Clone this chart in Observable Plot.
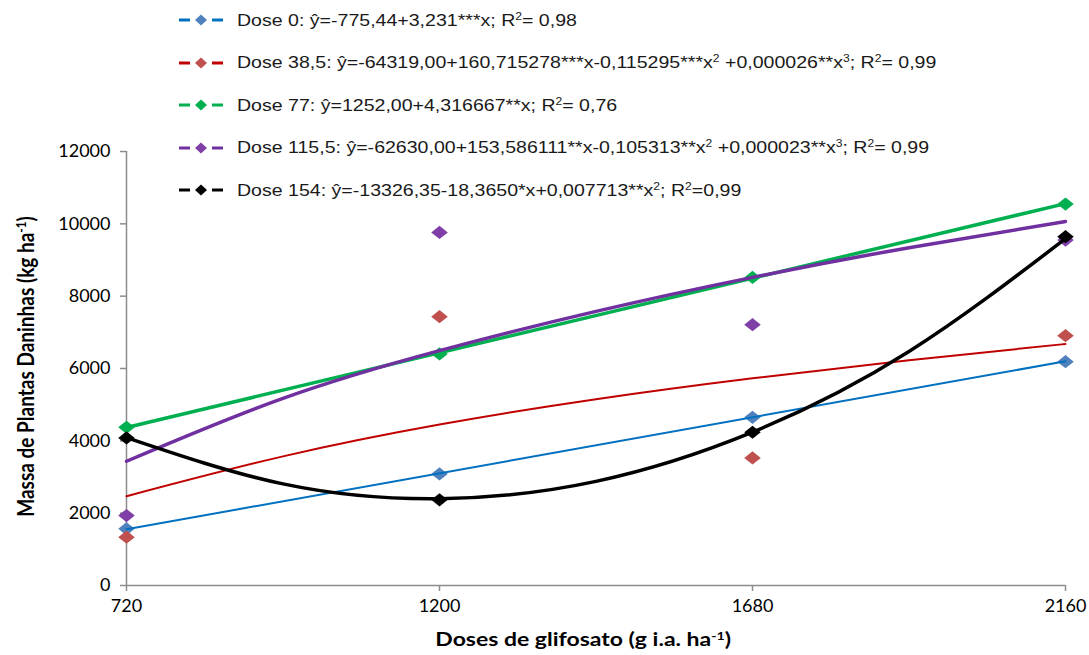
<!DOCTYPE html>
<html>
<head>
<meta charset="utf-8">
<script src="https://cdn.jsdelivr.net/npm/d3@7"></script>
<script src="https://cdn.jsdelivr.net/npm/@observablehq/plot@0.6"></script>
<style>
  html, body { margin: 0; padding: 0; background: #fff; }
  #wrap { position: relative; width: 1089px; height: 655px; overflow: hidden; }
  #legend { position: absolute; left: 0; top: 0; font-family: "Liberation Sans", Arial, sans-serif; font-size: 16.5px; color: #1a1a1a; }
  .row { position: absolute; display: flex; align-items: center; white-space: nowrap; height: 24px; }
  .row svg { margin-right: 13px; flex: none; }
  .row span { display: inline-block; transform: scaleX(1.185); transform-origin: 0 50%; }
  sup { font-size: 0.62em; vertical-align: 0.55em; line-height: 0; }
  .atitle { position: absolute; font-family: Lato, "Open Sans", sans-serif; font-weight: bold; font-size: 19px; color: #000; white-space: nowrap; }
</style>
</head>
<body>
<div id="wrap"></div>
<script>
// ---------- data ----------
const doses = [720, 1200, 1680, 2160];          // x tick labels / observed doses
const yTicks = [0, 2000, 4000, 6000, 8000, 10000, 12000];

const seriesNames = ["Dose 0", "Dose 38,5", "Dose 77", "Dose 115,5", "Dose 154"];

// observed values (diamond markers)
const obsDose0   = [1566, 3086, 4651, 6190];
const obsDose38  = [1335, 7433, 3528, 6908];
const obsDose77  = [4374, 6402, 8519, 10547];
const obsDose115 = [1934, 9763, 7212, 9552];
const obsDose154 = [4081, 2368, 4237, 9644];

// fitted lines (straight): endpoints
const lineX   = [720, 2160];
const fitDose0  = [1555, 6200];
const fitDose77 = [4370, 10560];

// fitted curves: values
const curveX = [720, 960, 1200, 1440, 1680, 1920, 2160];
const fitDose38  = [2468, 3570, 4450, 5150, 5729, 6230, 6678];
const fitDose115 = [3435, 5175, 6494, 7580, 8520, 9340, 10066];
const fitDose154 = [4090, 2810, 2400, 2880, 4240, 6470, 9590];

const legendTexts = [
  "Dose 0: ŷ=-775,44+3,231***x; R<sup>2</sup>= 0,98",
  "Dose 38,5: ŷ=-64319,00+160,715278***x-0,115295***x<sup>2</sup> +0,000026**x<sup>3</sup>; R<sup>2</sup>= 0,99",
  "Dose 77: ŷ=1252,00+4,316667**x; R<sup>2</sup>= 0,76",
  "Dose 115,5: ŷ=-62630,00+153,586111**x-0,105313**x<sup>2</sup> +0,000023**x<sup>3</sup>; R<sup>2</sup>= 0,99",
  "Dose 154: ŷ=-13326,35-18,3650*x+0,007713**x<sup>2</sup>; R<sup>2</sup>=0,99"
];

// ---------- styles ----------
const lineColors   = ["#0070C0", "#C00000", "#00B050", "#7030A0", "#000000"];
const markerColors = ["#4F81BD", "#C0504D", "#00B050", "#7F3FA6", "#000000"];
const lineWidths   = [2, 2, 3.5, 3.5, 3.5];

// a diamond slightly wider than tall, like the reference markers
const wideDiamond = {
  draw(context, size) {
    const r = Math.sqrt(size / Math.PI);
    const hw = r * 1.38, hh = r * 1.1;
    context.moveTo(0, -hh);
    context.lineTo(hw, 0);
    context.lineTo(0, hh);
    context.lineTo(-hw, 0);
    context.closePath();
  }
};

const obs = [obsDose0, obsDose38, obsDose77, obsDose115, obsDose154];
const fits = [
  {xs: lineX, ys: fitDose0, curve: "linear"},
  {xs: curveX, ys: fitDose38, curve: "natural"},
  {xs: lineX, ys: fitDose77, curve: "linear"},
  {xs: curveX, ys: fitDose115, curve: "natural"},
  {xs: curveX, ys: fitDose154, curve: "natural"}
];

const dotMarks = obs.map((vals, i) =>
  Plot.dot(doses.map((d, j) => ({x: d, y: vals[j]})), {
    x: "x", y: "y", symbol: wideDiamond, r: 6, fill: markerColors[i], stroke: "none"
  })
);
const lineMarks = fits.map((f, i) =>
  Plot.line(f.xs.map((d, j) => ({x: d, y: f.ys[j]})), {
    x: "x", y: "y", curve: f.curve, stroke: lineColors[i], strokeWidth: lineWidths[i]
  })
);

const chart = Plot.plot({
  width: 1089,
  height: 655,
  marginLeft: 126,
  marginRight: 24,
  marginTop: 151,
  marginBottom: 70,
  style: {fontFamily: "Lato, 'Open Sans', sans-serif", fontSize: "18px", background: "white", color: "#000"},
  x: {domain: [720, 2160]},
  y: {domain: [0, 12000]},
  marks: [
    Plot.ruleX([720], {stroke: "#8c8c8c", strokeWidth: 1.5}),
    Plot.ruleY([0], {stroke: "#8c8c8c", strokeWidth: 1.5}),
    Plot.axisY({ticks: yTicks, tickSize: 6, tickPadding: 10, stroke: "#8c8c8c", strokeWidth: 1.5, fill: "#000", tickFormat: d => String(d), label: null}),
    Plot.axisX({ticks: doses, tickSize: 6, tickPadding: 8, stroke: "#8c8c8c", strokeWidth: 1.5, fill: "#000", tickFormat: d => String(d), label: null}),
    ...dotMarks,
    ...lineMarks
  ]
});

const wrap = document.getElementById("wrap");
wrap.appendChild(chart);

// legend overlay
const legend = document.createElement("div");
legend.id = "legend";
legendTexts.forEach((t, i) => {
  const row = document.createElement("div");
  row.className = "row";
  row.style.left = "179px";
  row.style.top = (20 + i * 42.5 - 12) + "px";
  const c = lineColors[i], m = markerColors[i];
  row.innerHTML =
    `<svg width="45" height="14" viewBox="0 0 45 14">
       <line x1="0" y1="7" x2="11" y2="7" stroke="${c}" stroke-width="3"/>
       <line x1="33" y1="7" x2="44" y2="7" stroke="${c}" stroke-width="3"/>
       <path d="M22,1.5 L28,7 L22,12.5 L16,7 Z" fill="${m}"/>
     </svg><span>${t}</span>`;
  legend.appendChild(row);
});
wrap.appendChild(legend);

// axis titles
const xt = document.createElement("div");
xt.className = "atitle";
xt.innerHTML = "Doses de glifosato (g i.a. ha<sup>-1</sup>)";
wrap.appendChild(xt);
const yt = document.createElement("div");
yt.className = "atitle";
yt.innerHTML = "Massa de Plantas Daninhas (kg ha<sup>-1</sup>)";
wrap.appendChild(yt);

// position titles centered
const xw = xt.offsetWidth, xh = xt.offsetHeight;
xt.style.left = (583 - xw / 2) + "px";
xt.style.top = (638 - xh / 2) + "px";
xt.style.transform = "scaleX(1.21)";
const yw = yt.offsetWidth, yh = yt.offsetHeight;
yt.style.left = (25 - yw / 2) + "px";
yt.style.top = (366 - yh / 2) + "px";
yt.style.transform = "rotate(-90deg) scaleY(1.2)";
</script>
</body>
</html>
